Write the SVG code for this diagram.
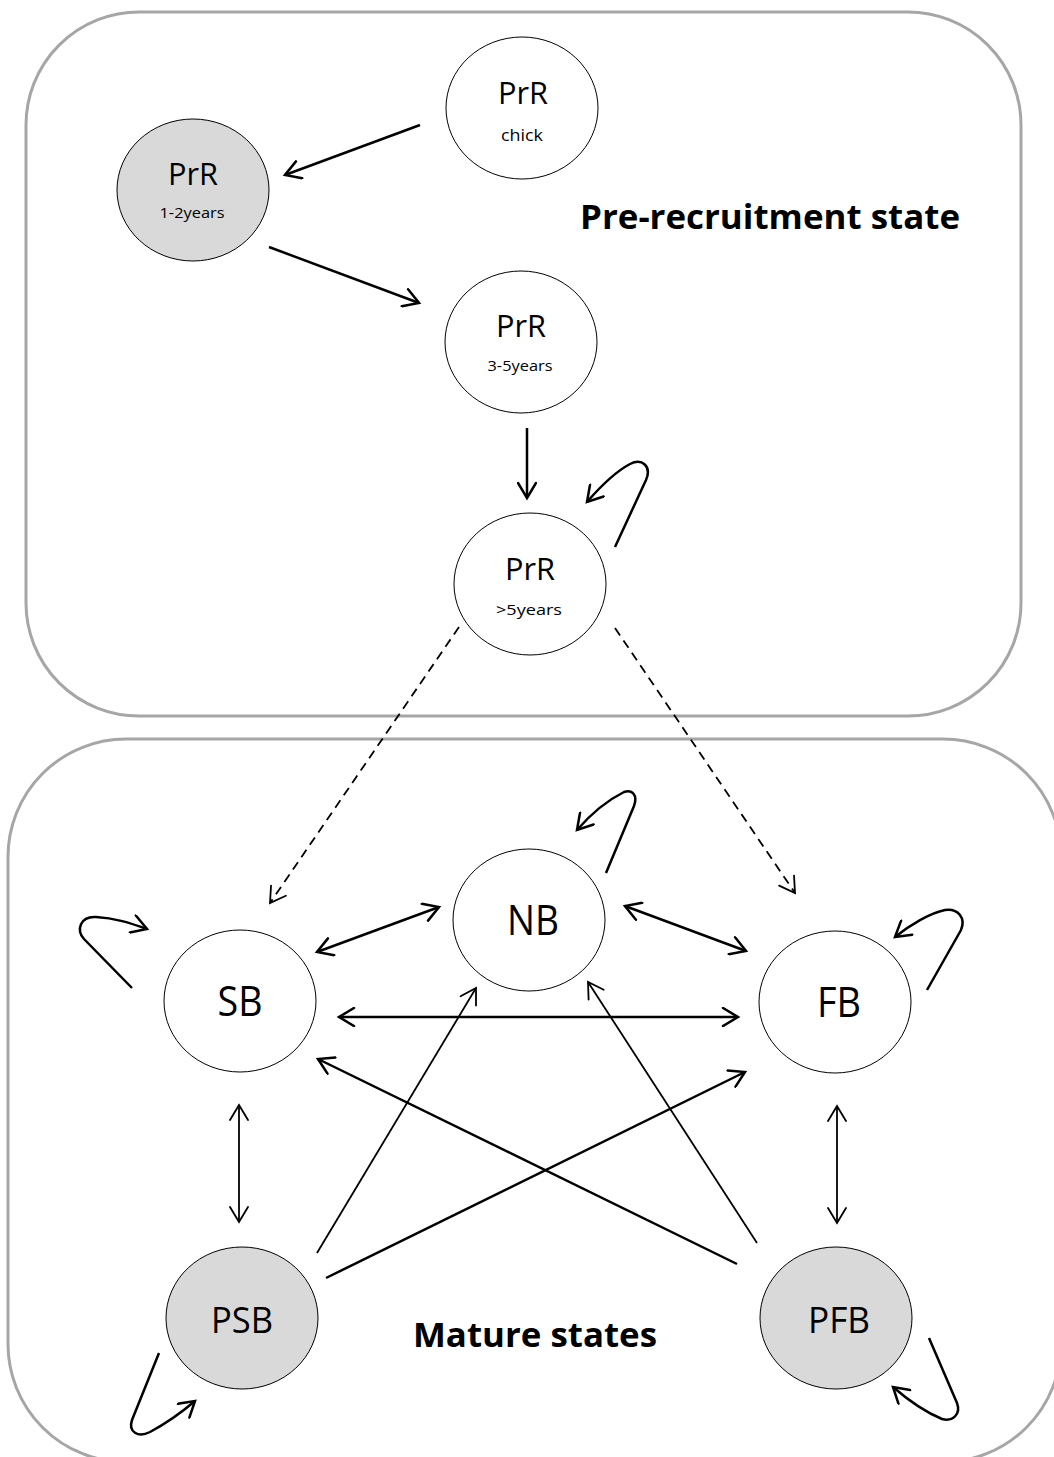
<svg xmlns="http://www.w3.org/2000/svg" width="1054" height="1457" viewBox="0 0 1054 1457">
  <style>
    .bg { fill: #ffffff; }
    .box { fill: none; stroke: #a6a6a6; stroke-width: 3; }
    .node { fill: #ffffff; stroke: #000000; stroke-width: 1; }
    .node.grey { fill: #d9d9d9; }
    .t { font-family: "Open Sans", "Liberation Sans", sans-serif; fill: #000000; text-anchor: middle; }
    .big { font-size: 42px; }
    .mid { font-size: 36px; }
    .prr { font-size: 31px; }
    .sub { font-size: 15px; }
    .chick { font-size: 17px; }
    .title { font-family: "Open Sans", "Liberation Sans", sans-serif; font-weight: bold; font-size: 34px; fill: #000000; }
    .edge { fill: none; stroke: #000000; stroke-width: 2.5; marker-end: url(#ah); }
    .edge.two { marker-start: url(#ah); }
    .thin { fill: none; stroke: #000000; stroke-width: 1.8; marker-end: url(#ahThin); }
    .thin.two { marker-start: url(#ahThin); }
    .dash { stroke-dasharray: 9 6; }
  </style>
  <defs>
    <marker id="ah" viewBox="0 0 20 20" refX="17" refY="10" markerWidth="20" markerHeight="20" markerUnits="userSpaceOnUse" orient="auto-start-reverse">
      <path d="M2,1 L17,10 L2,19" fill="none" stroke="#000000" stroke-width="2.5" stroke-linecap="round"/>
    </marker>
    <marker id="ahThin" viewBox="0 0 20 20" refX="17" refY="10" markerWidth="20" markerHeight="20" markerUnits="userSpaceOnUse" orient="auto-start-reverse">
      <path d="M2,1 L17,10 L2,19" fill="none" stroke="#000000" stroke-width="1.8" stroke-linecap="round"/>
    </marker>
  </defs>

  <rect class="bg" x="0" y="0" width="1054" height="1457"/>

  <g id="containers">
    <rect id="pre-recruitment-box" class="box" x="26" y="12" width="995" height="704" rx="113" ry="113"/>
    <rect id="mature-box" class="box" x="8" y="739" width="1053" height="723" rx="118" ry="118"/>
    <text class="title" x="580" y="229" textLength="380" lengthAdjust="spacingAndGlyphs">Pre-recruitment state</text>
    <text class="title" x="413" y="1347" textLength="244" lengthAdjust="spacingAndGlyphs">Mature states</text>
  </g>

  <g id="connectors">
    <path class="edge" d="M420,125 L285,175"/>
    <path class="edge" d="M269,247 L419,303"/>
    <path class="edge" d="M527,428 L527,498"/>
    <path class="edge" d="M615,547 L646,480 C652,466 642,458 630,464 C615,472 600,487 587,502"/>
    <path class="thin dash" d="M459,627 L270,903"/>
    <path class="thin dash" d="M615,628 L795,893"/>
    <path class="edge" d="M606,873 L634,806 C638,795 632,789 624,792 C608,800 590,815 577,830"/>
    <path class="edge two" d="M317,952 L439,907"/>
    <path class="edge two" d="M625,906 L746,951"/>
    <path class="edge two" d="M339,1017 L738,1017"/>
    <path class="edge" d="M132,988 L84,939 C76,930 80,916 96,917 C115,918 130,923 147,929"/>
    <path class="edge" d="M927,990 L961,930 C966,918 958,908 945,910 C930,913 910,925 895,937"/>
    <path class="thin two" d="M239,1105 L239,1222"/>
    <path class="thin two" d="M837,1106 L837,1223"/>
    <path class="thin" d="M317,1253 L476,988"/>
    <path class="thin" d="M757,1243 L588,982"/>
    <path class="edge" d="M326,1278 L745,1072"/>
    <path class="edge" d="M737,1264 L318,1059"/>
    <path class="edge" d="M159,1353 L132,1420 C128,1432 138,1438 150,1432 C165,1424 182,1412 195,1401"/>
    <path class="edge" d="M929,1338 L957,1403 C961,1414 953,1422 942,1419 C925,1412 908,1400 893,1387"/>
  </g>

  <g id="node-prr-chick">
    <ellipse class="node" cx="522" cy="108" rx="76" ry="71"/>
    <text class="t prr" x="523" y="104" textLength="50" lengthAdjust="spacingAndGlyphs">PrR</text>
    <text class="t chick" x="522" y="141" textLength="42" lengthAdjust="spacingAndGlyphs">chick</text>
  </g>
  <g id="node-prr-1-2years">
    <ellipse class="node grey" cx="193" cy="190" rx="76" ry="71"/>
    <text class="t prr" x="193" y="185" textLength="50" lengthAdjust="spacingAndGlyphs">PrR</text>
    <text class="t sub" x="192" y="218" textLength="65" lengthAdjust="spacingAndGlyphs">1-2years</text>
  </g>
  <g id="node-prr-3-5years">
    <ellipse class="node" cx="521" cy="342" rx="76" ry="71"/>
    <text class="t prr" x="521" y="337" textLength="50" lengthAdjust="spacingAndGlyphs">PrR</text>
    <text class="t sub" x="520" y="371" textLength="65" lengthAdjust="spacingAndGlyphs">3-5years</text>
  </g>
  <g id="node-prr-5years">
    <ellipse class="node" cx="530" cy="584" rx="76" ry="71"/>
    <text class="t prr" x="530" y="580" textLength="50" lengthAdjust="spacingAndGlyphs">PrR</text>
    <text class="t sub" x="529" y="615" textLength="66" lengthAdjust="spacingAndGlyphs">&gt;5years</text>
  </g>
  <g id="node-nb">
    <ellipse class="node" cx="529" cy="920" rx="76" ry="71"/>
    <text class="t big" x="533" y="935" textLength="52" lengthAdjust="spacingAndGlyphs">NB</text>
  </g>
  <g id="node-sb">
    <ellipse class="node" cx="240" cy="1001" rx="76" ry="71"/>
    <text class="t big" x="240" y="1016" textLength="45" lengthAdjust="spacingAndGlyphs">SB</text>
  </g>
  <g id="node-fb">
    <ellipse class="node" cx="835" cy="1002" rx="76" ry="71"/>
    <text class="t big" x="839" y="1017" textLength="44" lengthAdjust="spacingAndGlyphs">FB</text>
  </g>
  <g id="node-psb">
    <ellipse class="node grey" cx="242" cy="1318" rx="76" ry="71"/>
    <text class="t mid" x="242" y="1333" textLength="62" lengthAdjust="spacingAndGlyphs">PSB</text>
  </g>
  <g id="node-pfb">
    <ellipse class="node grey" cx="836" cy="1318" rx="76" ry="71"/>
    <text class="t mid" x="839" y="1333" textLength="62" lengthAdjust="spacingAndGlyphs">PFB</text>
  </g>
</svg>
